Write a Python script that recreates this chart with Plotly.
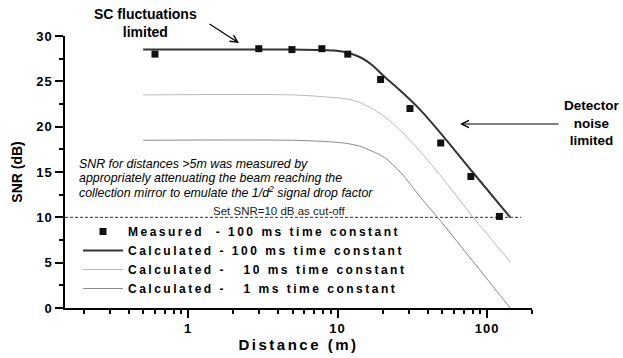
import math
import plotly.graph_objects as go

# ---------------- data ----------------
measured_dist = [0.6, 2.97, 4.95, 7.85, 11.7, 19.4, 30.5, 49, 78, 121]
measured_snr = [28.0, 28.6, 28.5, 28.6, 28.0, 25.2, 22.0, 18.2, 14.5, 10.1]

calc_dist = [0.5, 5, 9.5, 12, 14.4, 17, 20.6, 26.6, 36, 50, 80, 143]
calc_100ms = [28.5, 28.5, 28.4, 28.1, 27.6, 26.8, 25.5, 23.9, 21.8, 19.1, 15.0, 10.0]
calc_10ms = [23.5, 23.5, 23.2, 23.0, 22.6, 22.0, 21.1, 19.5, 17.2, 14.4, 10.1, 5.1]
calc_1ms = [18.5, 18.5, 18.3, 18.1, 17.8, 17.3, 16.6, 14.9, 12.2, 9.4, 5.2, 0.0]

cutoff_snr = 10
cutoff_dist = [0.15, 169]

x_range = [0.15, 200]
y_range = [0, 30]
x_tickvals = [1, 10, 100]
x_ticktext = ["1", "10", "100"]
y_tickvals = [0, 5, 10, 15, 20, 25, 30]

names = [
    "Measured\u00a0\u00a0- 100 ms time constant",
    "Calculated - 100 ms time constant",
    "Calculated - \u00a0\u00a010 ms time constant",
    "Calculated - \u00a0\u00a01 ms time constant",
]

# ---------------- layout geometry ----------------
W, H = 623, 358
L, R, T, B = 65, 91, 36, 50
PW, PH = W - L - R, H - T - B


def px(x):
    return (x - L) / PW


def py(y):
    return (H - B - y) / PH


FONT = "Liberation Sans, Arial, sans-serif"

fig = go.Figure()

fig.add_trace(go.Scatter(
    x=[cutoff_dist[0], cutoff_dist[1]], y=[cutoff_snr, cutoff_snr],
    mode="lines", line=dict(color="#333333", width=1, dash="3px,2px"),
    showlegend=False, hoverinfo="skip"))

fig.add_trace(go.Scatter(
    x=calc_dist, y=calc_1ms, mode="lines", name=names[3],
    line=dict(color="#8a8a8a", width=1, shape="spline", smoothing=0.8),
    legendrank=4))
fig.add_trace(go.Scatter(
    x=calc_dist, y=calc_10ms, mode="lines", name=names[2],
    line=dict(color="#b8b8b8", width=1, shape="spline", smoothing=0.8),
    legendrank=3))
fig.add_trace(go.Scatter(
    x=calc_dist, y=calc_100ms, mode="lines", name=names[1],
    line=dict(color="#333333", width=2, shape="spline", smoothing=0.8),
    legendrank=2))
fig.add_trace(go.Scatter(
    x=measured_dist, y=measured_snr, mode="markers", name=names[0],
    marker=dict(symbol="square", size=7, color="#111111"),
    legendrank=1))

axis_common = dict(
    showline=True, linecolor="black", linewidth=1.5,
    ticks="outside", ticklen=8, tickwidth=1.5, tickcolor="black",
    showgrid=False, zeroline=False,
    tickfont=dict(family=FONT, size=13, color="black", weight="bold"),
)

fig.update_xaxes(
    type="log", range=[math.log10(x_range[0]), math.log10(x_range[1])],
    tickvals=x_tickvals, ticktext=x_ticktext,
    minor=dict(ticks="outside", ticklen=4, tickwidth=1.5, tickcolor="black",
               dtick="D1", showgrid=False),
    title=dict(text="Distance (m)", standoff=2,
               font=dict(family=FONT, size=15, color="black", weight="bold")),
    **axis_common)
fig.update_yaxes(
    range=y_range, tickvals=y_tickvals,
    minor=dict(ticks="outside", ticklen=4, tickwidth=1.5, tickcolor="black",
               dtick=2.5, showgrid=False),
    title=dict(text="SNR (dB)", standoff=12,
               font=dict(family=FONT, size=14, color="black", weight="bold")),
    **axis_common)

annotations = [
    dict(x=px(145), y=py(23), text="SC fluctuations<br>limited",
         font=dict(family=FONT, size=14, color="black", weight="bold")),
    dict(x=px(592), y=py(123), text="Detector<br>noise<br>limited",
         font=dict(family=FONT, size=13.5, color="black", weight="bold")),
    dict(x=px(77), y=py(163.5), xanchor="left",
         text="SNR for distances >5m was measured by",
         font=dict(family=FONT, size=12.4, color="black", style="italic")),
    dict(x=px(77), y=py(177.5), xanchor="left",
         text="appropriately attenuating the beam reaching the",
         font=dict(family=FONT, size=12.4, color="black", style="italic")),
    dict(x=px(77), y=py(191.7), xanchor="left",
         text="collection mirror to emulate the 1/d<sup>2</sup> signal drop factor",
         font=dict(family=FONT, size=12.4, color="black", style="italic")),
    dict(x=px(348), y=py(211), xanchor="right",
         text="Set SNR=10 dB as cut-off",
         font=dict(family=FONT, size=11.5, color="#222222")),
]
for a in annotations:
    a.update(xref="paper", yref="paper", showarrow=False)
    a.setdefault("xanchor", "center")
    a["yanchor"] = "middle"

arrows = [
    dict(x=px(239), y=py(43), ax=-31, ay=-20),
    dict(x=px(460), y=py(124), ax=100, ay=0),
]
for a in arrows:
    a.update(xref="paper", yref="paper", text="", showarrow=True,
             arrowhead=5, arrowsize=1.2, arrowwidth=1.2, arrowcolor="black")

fig.update_layout(
    width=W, height=H,
    margin=dict(l=L, r=R, t=T, b=B, autoexpand=False),
    paper_bgcolor="white", plot_bgcolor="white",
    font=dict(family=FONT, color="black"),
    annotations=annotations + arrows,
    showlegend=True,
    legend=dict(x=px(78), y=py(217), xanchor="left", yanchor="top",
                bgcolor="rgba(0,0,0,0)", borderwidth=0,
                itemwidth=40, tracegroupgap=0,
                font=dict(family=FONT, size=12, color="black", weight="bold")),
)

post = """
document.body.style.margin = '0';
document.body.style.padding = '0';
var gd = document.getElementById('{plot_id}');
function spacing(){
  gd.querySelectorAll('.legendtext').forEach(function(e){e.style.letterSpacing='2.5px';});
  gd.querySelectorAll('.legend [clip-path]').forEach(function(e){e.removeAttribute('clip-path');});
  gd.querySelectorAll('.xtick text, .ytick text').forEach(function(e){e.style.letterSpacing='1px';});
  gd.querySelectorAll('.g-xtitle text').forEach(function(e){e.style.letterSpacing='2.5px';});
}
spacing();
gd.on('plotly_afterplot', spacing);
"""

fig.write_html("out.html", post_script=post, config={"displayModeBar": False})
